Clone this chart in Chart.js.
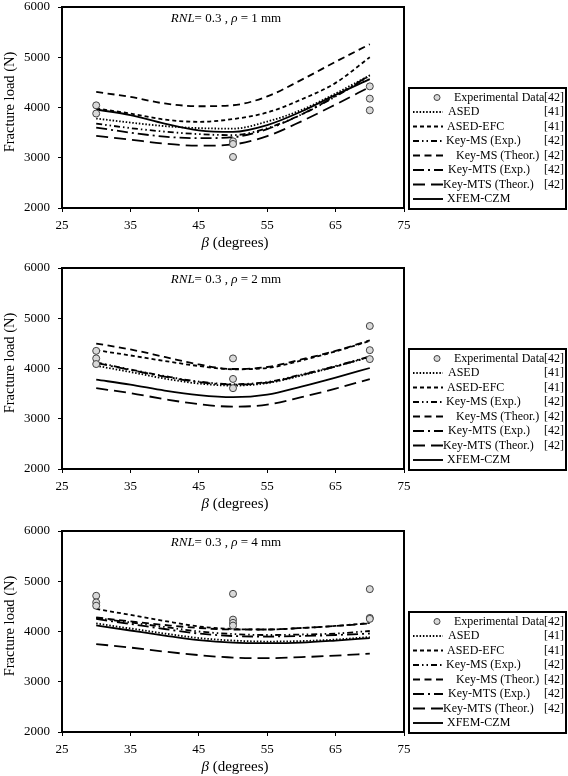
<!DOCTYPE html>
<html><head><meta charset="utf-8">
<script src="https://cdn.jsdelivr.net/npm/chart.js@4.4.1/dist/chart.umd.min.js"></script>
<style>
html,body{margin:0;padding:0;background:#fff;width:568px;height:776px;overflow:hidden;position:relative}
canvas{position:absolute;left:0}
</style></head><body>
<canvas id="c1" width="568" height="258" style="top:0px"></canvas>
<canvas id="c2" width="568" height="258" style="top:261px"></canvas>
<canvas id="c3" width="568" height="258" style="top:524px"></canvas>
<script>
// ---------- data ----------
const beta = [30, 35, 40, 45, 50, 55, 60, 65, 70];
const seriesNames = ['ASED', 'ASED-EFC', 'Key-MS (Exp.)', 'Key-MS (Theor.)', 'Key-MTS (Exp.)', 'Key-MTS (Theor.)', 'XFEM-CZM'];
const seriesRefs = ['[41]', '[41]', '[42]', '[42]', '[42]', '[42]', ''];
const expName = 'Experimental Data';
const expRef = '[42]';
const xTicks = [25, 35, 45, 55, 65, 75];
const yTicks = [2000, 3000, 4000, 5000, 6000];
const rhoValues = [1, 2, 4];

// panel 1 (rho = 1 mm)
const expBeta1 = [30, 30, 50, 50, 50, 70, 70, 70];
const expLoad1 = [4043, 3880, 3327, 3274, 3015, 4421, 4176, 3944];
const ased1       = [3780, 3700, 3630, 3590, 3580, 3720, 3950, 4280, 4640];
const asedEfc1    = [3980, 3880, 3760, 3715, 3770, 3900, 4160, 4490, 5000];
const keyMsExp1   = [3680, 3590, 3520, 3470, 3450, 3590, 3860, 4220, 4630];
const keyMsTh1    = [4310, 4210, 4080, 4025, 4045, 4220, 4550, 4910, 5260];
const keyMtsExp1  = [3600, 3500, 3420, 3390, 3410, 3570, 3860, 4230, 4640];
const keyMtsTh1   = [3435, 3360, 3280, 3240, 3265, 3430, 3725, 4060, 4410];
const xfem1       = [3960, 3850, 3680, 3545, 3515, 3650, 3920, 4250, 4565];

// panel 2 (rho = 2 mm)
const expBeta2 = [30, 30, 30, 50, 50, 50, 70, 70, 70];
const expLoad2 = [4351, 4201, 4088, 4201, 3792, 3608, 4846, 4365, 4187];
const ased2       = [4055, 3930, 3800, 3700, 3660, 3710, 3860, 4040, 4230];
const asedEfc2    = [4365, 4260, 4150, 4050, 3985, 4010, 4160, 4340, 4550];
const keyMsExp2   = [4122, 3980, 3850, 3740, 3690, 3730, 3880, 4050, 4240];
const keyMsTh2    = [4497, 4380, 4230, 4080, 3990, 4030, 4180, 4350, 4560];
const keyMtsExp2  = [4110, 3970, 3840, 3730, 3680, 3720, 3870, 4040, 4230];
const keyMtsTh2   = [3608, 3510, 3390, 3290, 3240, 3280, 3430, 3600, 3790];
const xfem2       = [3778, 3680, 3560, 3470, 3430, 3480, 3640, 3820, 4010];

// panel 3 (rho = 4 mm)
const expBeta3 = [30, 30, 30, 50, 50, 50, 50, 70, 70, 70];
const expLoad3 = [4711, 4579, 4513, 4750, 4237, 4172, 4118, 4843, 4270, 4251];
const ased3       = [4160, 4060, 3960, 3870, 3820, 3800, 3810, 3840, 3890];
const asedEfc3    = [4450, 4330, 4210, 4100, 4050, 4040, 4070, 4110, 4170];
const keyMsExp3   = [4270, 4180, 4090, 4000, 3950, 3930, 3940, 3960, 4010];
const keyMsTh3    = [4280, 4200, 4130, 4070, 4040, 4040, 4070, 4110, 4160];
const keyMtsExp3  = [4250, 4150, 4050, 3960, 3910, 3900, 3910, 3930, 3960];
const keyMtsTh3   = [3750, 3680, 3600, 3530, 3480, 3470, 3490, 3520, 3560];
const xfem3       = [4120, 4020, 3920, 3830, 3780, 3770, 3780, 3820, 3870];

// ---------- styles ----------
const SERIF = '"Liberation Serif","Times New Roman",serif';
const dashes = [[1.5, 1.8], [4, 3], [6, 3, 1.5, 3, 1.5, 3], [7, 4.5], [11, 4, 2, 4], [12, 6], []];
const widths = [1.8, 1.8, 1.8, 1.8, 1.8, 1.8, 1.8];

function toPts(xs, ys) { return xs.map((x, i) => ({ x: x, y: ys[i] })); }

function drawRich(ctx, parts, cx, cy, size) {
  let w = 0;
  parts.forEach(p => { ctx.font = (p[1] ? 'italic ' : '') + size + 'px ' + SERIF; w += ctx.measureText(p[0]).width; });
  let x = cx - w / 2;
  ctx.textAlign = 'left'; ctx.textBaseline = 'middle'; ctx.fillStyle = '#000';
  parts.forEach(p => { ctx.font = (p[1] ? 'italic ' : '') + size + 'px ' + SERIF; ctx.fillText(p[0], x, cy); x += ctx.measureText(p[0]).width; });
}

const deco = {
  id: 'deco',
  afterDraw(chart, args, o) {
    const ctx = chart.ctx, a = chart.chartArea;
    ctx.save();
    ctx.setLineDash([]);
    ctx.strokeStyle = '#000'; ctx.lineWidth = 2;
    ctx.strokeRect(a.left, a.top, a.right - a.left, a.bottom - a.top);
    // annotation
    drawRich(ctx, [['RNL', true], ['= 0.3 , ', false], ['\u03C1', true], [' = ' + o.rho + ' mm', false]], 226, a.top + 12, 13);
    // x title
    drawRich(ctx, [['\u03B2', true], [' (degrees)', false]], 235, a.bottom + 35, 15);
    // y title
    ctx.save();
    ctx.translate(10, 102);
    ctx.rotate(-Math.PI / 2);
    drawRich(ctx, [['Fracture load (N)', false]], 0, 0, 14.5);
    ctx.restore();
    // legend box
    const L = 409, T = 88, R = 566, B = 209;
    ctx.lineWidth = 2; ctx.strokeStyle = '#000';
    ctx.strokeRect(L, T, R - L, B - T);
    const rowY = i => 97.5 + i * 14.5;
    const textX = [454, 448, 447, 446, 456, 448, 443, 447];
    ctx.font = '12px ' + SERIF; ctx.fillStyle = '#000'; ctx.textBaseline = 'middle';
    // experimental
    ctx.beginPath(); ctx.arc(437, rowY(0), 3, 0, Math.PI * 2);
    ctx.fillStyle = '#d9d9d9'; ctx.fill(); ctx.lineWidth = 1; ctx.strokeStyle = '#404040'; ctx.stroke();
    ctx.fillStyle = '#000'; ctx.textAlign = 'left'; ctx.fillText(expName, textX[0], rowY(0));
    ctx.textAlign = 'right'; ctx.fillText(expRef, 564, rowY(0));
    seriesNames.forEach((n, i) => {
      const y = rowY(i + 1);
      ctx.beginPath(); ctx.setLineDash(dashes[i]); ctx.lineWidth = 1.9; ctx.strokeStyle = '#000';
      ctx.moveTo(413, y); ctx.lineTo(443, y); ctx.stroke(); ctx.setLineDash([]);
      ctx.textAlign = 'left'; ctx.fillText(n, textX[i + 1], y);
      if (seriesRefs[i]) { ctx.textAlign = 'right'; ctx.fillText(seriesRefs[i], 564, y); }
    });
    ctx.restore();
  }
};

function makeChart(id, rho, expB, expL, series) {
  const ds = [{
    type: 'scatter', label: expName, data: toPts(expB, expL),
    pointRadius: 3.5, pointBackgroundColor: '#d9d9d9', pointBorderColor: '#404040', pointBorderWidth: 1, showLine: false
  }];
  series.forEach((s, i) => ds.push({
    type: 'line', label: seriesNames[i], data: toPts(beta, s), borderColor: '#000', borderWidth: widths[i],
    borderDash: dashes[i], pointRadius: 0, tension: 0.4, cubicInterpolationMode: 'monotone', fill: false
  }));
  const tickFont = { family: SERIF, size: 13 };
  return new Chart(document.getElementById(id), {
    type: 'line',
    data: { datasets: ds },
    options: {
      responsive: false, animation: false, devicePixelRatio: 1,
      layout: { padding: { left: 0, top: 7, right: 164, bottom: 0 } },
      plugins: { legend: { display: false }, tooltip: { enabled: false }, deco: { rho: rho } },
      scales: {
        x: {
          type: 'linear', min: 25, max: 75,
          afterBuildTicks: s => { s.ticks = xTicks.map(v => ({ value: v })); },
          ticks: { font: tickFont, color: '#000', padding: 6, maxRotation: 0, callback: v => String(v) },
          grid: { drawOnChartArea: false, tickLength: 4, tickColor: '#000', tickWidth: 1 },
          border: { color: '#000', width: 2 },
          afterFit: s => { s.height = 50; s.paddingLeft = 0; s.paddingRight = 0; }
        },
        y: {
          type: 'linear', min: 2000, max: 6000,
          afterBuildTicks: s => { s.ticks = yTicks.map(v => ({ value: v })); },
          ticks: { font: tickFont, color: '#000', padding: 8, callback: v => String(v) },
          grid: { drawOnChartArea: false, tickLength: 4, tickColor: '#000', tickWidth: 1 },
          border: { color: '#000', width: 2 },
          afterFit: s => { s.width = 62; s.paddingTop = 0; s.paddingBottom = 0; }
        }
      }
    },
    plugins: [deco]
  });
}

makeChart('c1', rhoValues[0], expBeta1, expLoad1, [ased1, asedEfc1, keyMsExp1, keyMsTh1, keyMtsExp1, keyMtsTh1, xfem1]);
makeChart('c2', rhoValues[1], expBeta2, expLoad2, [ased2, asedEfc2, keyMsExp2, keyMsTh2, keyMtsExp2, keyMtsTh2, xfem2]);
makeChart('c3', rhoValues[2], expBeta3, expLoad3, [ased3, asedEfc3, keyMsExp3, keyMsTh3, keyMtsExp3, keyMtsTh3, xfem3]);
</script>
</body></html>
